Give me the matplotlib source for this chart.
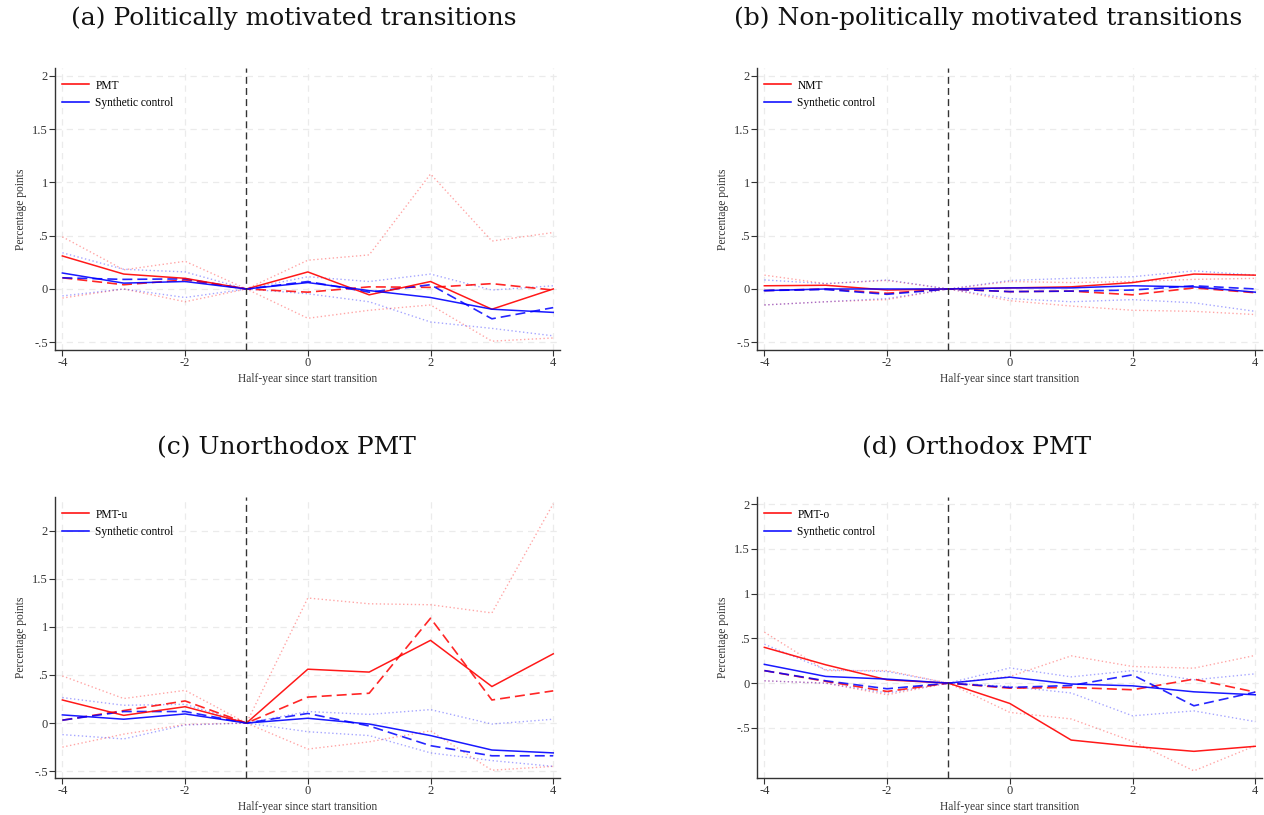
import matplotlib
matplotlib.use("Agg")
import matplotlib.pyplot as plt
from matplotlib.lines import Line2D

W, H = 1264, 815

x = [-4, -3, -2, -1, 0, 1, 2, 3, 4]

# ---- Panel (a): Politically motivated transitions
a_treat      = [0.31, 0.14, 0.10, 0.0, 0.16, -0.055, 0.07, -0.19, 0.0]
a_synth      = [0.15, 0.055, 0.07, 0.0, 0.06, -0.015, -0.08, -0.19, -0.22]
a_treat_dash = [0.105, 0.04, 0.085, 0.0, -0.03, 0.02, 0.015, 0.05, -0.01]
a_synth_dash = [0.105, 0.09, 0.095, 0.0, 0.07, -0.03, 0.04, -0.28, -0.175]
a_treat_hi   = [0.49, 0.18, 0.26, 0.0, 0.27, 0.32, 1.08, 0.45, 0.53]
a_treat_lo   = [-0.085, 0.0, -0.12, 0.0, -0.275, -0.2, -0.15, -0.49, -0.46]
a_synth_hi   = [0.34, 0.185, 0.16, 0.0, 0.115, 0.07, 0.14, -0.01, 0.03]
a_synth_lo   = [-0.065, 0.0, -0.08, 0.0, -0.045, -0.12, -0.31, -0.37, -0.44]

# ---- Panel (b): Non-politically motivated transitions
b_treat      = [0.03, 0.035, -0.01, 0.0, 0.01, 0.02, 0.06, 0.14, 0.13]
b_synth      = [-0.015, 0.0, 0.0, 0.0, 0.01, 0.01, 0.03, 0.02, -0.03]
b_treat_dash = [-0.015, 0.0, -0.04, 0.0, -0.025, -0.02, -0.055, 0.01, -0.035]
b_synth_dash = [-0.015, -0.005, -0.05, 0.0, -0.025, -0.02, -0.01, 0.03, 0.0]
b_treat_hi   = [0.13, 0.05, 0.08, 0.0, 0.07, 0.06, 0.07, 0.09, 0.10]
b_treat_lo   = [-0.15, -0.12, -0.10, 0.0, -0.11, -0.16, -0.20, -0.21, -0.24]
b_synth_hi   = [0.085, 0.05, 0.085, 0.0, 0.08, 0.10, 0.115, 0.17, 0.13]
b_synth_lo   = [-0.15, -0.12, -0.09, 0.0, -0.09, -0.12, -0.10, -0.13, -0.21]

# ---- Panel (c): Unorthodox PMT
c_treat      = [0.24, 0.08, 0.17, 0.0, 0.56, 0.53, 0.86, 0.38, 0.72]
c_synth      = [0.085, 0.04, 0.095, 0.0, 0.05, -0.01, -0.13, -0.28, -0.31]
c_treat_dash = [0.03, 0.13, 0.23, 0.0, 0.27, 0.31, 1.09, 0.24, 0.335]
c_synth_dash = [0.03, 0.12, 0.12, 0.0, 0.10, -0.03, -0.235, -0.34, -0.34]
c_treat_hi   = [0.49, 0.255, 0.34, 0.0, 1.30, 1.24, 1.23, 1.145, 2.28]
c_treat_lo   = [-0.25, -0.115, -0.015, 0.0, -0.27, -0.195, -0.08, -0.49, -0.45]
c_synth_hi   = [0.265, 0.185, 0.195, 0.0, 0.12, 0.09, 0.14, -0.01, 0.04]
c_synth_lo   = [-0.12, -0.165, -0.02, 0.0, -0.09, -0.13, -0.31, -0.39, -0.45]

# ---- Panel (d): Orthodox PMT
d_treat      = [0.40, 0.205, 0.037, 0.0, -0.227, -0.636, -0.706, -0.762, -0.706]
d_synth      = [0.21, 0.075, 0.045, 0.0, 0.067, -0.01, -0.03, -0.097, -0.13]
d_treat_dash = [0.14, 0.02, -0.093, 0.0, -0.056, -0.048, -0.074, 0.045, -0.10]
d_synth_dash = [0.14, 0.026, -0.063, 0.0, -0.048, -0.026, 0.093, -0.253, -0.10]
d_treat_hi   = [0.57, 0.14, 0.14, 0.0, 0.074, 0.305, 0.186, 0.167, 0.31]
d_treat_lo   = [0.026, 0.0, -0.13, 0.0, -0.327, -0.40, -0.65, -0.98, -0.70]
d_synth_hi   = [0.435, 0.15, 0.13, 0.0, 0.17, 0.07, 0.14, 0.037, 0.104]
d_synth_lo   = [0.026, 0.0, -0.11, 0.0, -0.037, -0.11, -0.365, -0.31, -0.43]

titles = ["(a) Politically motivated transitions",
          "(b) Non-politically motivated transitions",
          "(c) Unorthodox PMT",
          "(d) Orthodox PMT"]
treat_labels = ["PMT", "NMT", "PMT-u", "PMT-o"]
xticks = [-4, -2, 0, 2, 4]
yticks = [-0.5, 0, 0.5, 1, 1.5, 2]
ytick_labels = ["-.5", "0", ".5", "1", "1.5", "2"]

panels = [
    (a_treat, a_synth, a_treat_dash, a_synth_dash, a_treat_hi, a_treat_lo, a_synth_hi, a_synth_lo),
    (b_treat, b_synth, b_treat_dash, b_synth_dash, b_treat_hi, b_treat_lo, b_synth_hi, b_synth_lo),
    (c_treat, c_synth, c_treat_dash, c_synth_dash, c_treat_hi, c_treat_lo, c_synth_hi, c_synth_lo),
    (d_treat, d_synth, d_treat_dash, d_synth_dash, d_treat_hi, d_treat_lo, d_synth_hi, d_synth_lo),
]

# pixel boxes: (left, top, right, bottom)
boxes = [(55, 68, 560, 350), (757, 68, 1262, 350),
         (55, 497, 560, 778), (757, 497, 1262, 778)]
ylims = [(-0.573, 2.075), (-0.573, 2.075), (-0.571, 2.35), (-1.06, 2.08)]
title_pos = [(294, 18), (988, 18), (286, 448), (977, 448)]

serif = "Liberation Serif"
RED = "#ff0000"
BLUE = "#0000ff"

fig = plt.figure(figsize=(W / 100, H / 100), dpi=100)
fig.patch.set_facecolor("white")

for i, (data, box) in enumerate(zip(panels, boxes)):
    l, t, r, b = box
    ax = fig.add_axes([l / W, 1 - b / H, (r - l) / W, (b - t) / H])
    tr, sy, trd, syd, trh, trl, syh, syl = data

    ax.set_xlim(-4.12, 4.11)
    ax.set_ylim(*ylims[i])

    # grid
    for xt in xticks:
        ax.axvline(xt, color="#ebebeb", lw=0.9, ls=(0, (5, 4)), zorder=0)
    for yt in yticks:
        ax.axhline(yt, color="#ebebeb", lw=0.9, ls=(0, (5, 4)), zorder=0)

    # dotted CIs
    dot = (0, (1, 1.8))
    ax.plot(x, trh, color=RED, alpha=0.35, lw=1.0, ls=dot, zorder=2)
    ax.plot(x, trl, color=RED, alpha=0.35, lw=1.0, ls=dot, zorder=2)
    ax.plot(x, syh, color=BLUE, alpha=0.35, lw=1.0, ls=dot, zorder=2)
    ax.plot(x, syl, color=BLUE, alpha=0.35, lw=1.0, ls=dot, zorder=2)
    # dashed
    ax.plot(x, trd, color=RED, alpha=0.85, lw=1.2, ls=(0, (6, 3)), zorder=3)
    ax.plot(x, syd, color=BLUE, alpha=0.85, lw=1.2, ls=(0, (6, 3)), zorder=3)
    # solid
    ax.plot(x, tr, color=RED, alpha=0.9, lw=1.1, zorder=4)
    ax.plot(x, sy, color=BLUE, alpha=0.9, lw=1.1, zorder=4)

    # vertical event line
    ax.axvline(-1, color="#333333", lw=1.0, ls=(0, (5, 3)), zorder=5)

    for s in ["top", "right"]:
        ax.spines[s].set_visible(False)
    for s in ["left", "bottom"]:
        ax.spines[s].set_color("#333333")
        ax.spines[s].set_linewidth(1.0)

    ax.set_xticks(xticks)
    ax.set_xticklabels([str(v) for v in xticks])
    ax.set_yticks(yticks)
    ax.set_yticklabels(ytick_labels)
    ax.tick_params(axis="both", direction="out", length=4, width=0.8,
                   color="#333333", labelsize=9, pad=1, labelcolor="#333333")
    for lab in ax.get_xticklabels() + ax.get_yticklabels():
        lab.set_fontfamily(serif)

    ax.set_xlabel("Half-year since start transition", fontsize=8.3,
                  family=serif, color="#333333", labelpad=3)
    ax.set_ylabel("Percentage points", fontsize=8.3, family=serif,
                  color="#333333", labelpad=4)

    handles = [Line2D([0], [0], color=RED, lw=1.1),
               Line2D([0], [0], color=BLUE, lw=1.1)]
    ax.legend(handles, [treat_labels[i], "Synthetic control"], loc="upper left",
              bbox_to_anchor=(-0.008, 1.0), frameon=False, handlelength=2.3,
              handletextpad=0.55, labelspacing=0.45, borderaxespad=0.6,
              prop={"family": serif, "size": 8.3})

    tx, ty = title_pos[i]
    fig.text(tx / W, 1 - ty / H, titles[i], ha="center", va="center",
             fontsize=18, family="DejaVu Serif", color="#111111")

fig.savefig("out.png", dpi=100, facecolor="white")
